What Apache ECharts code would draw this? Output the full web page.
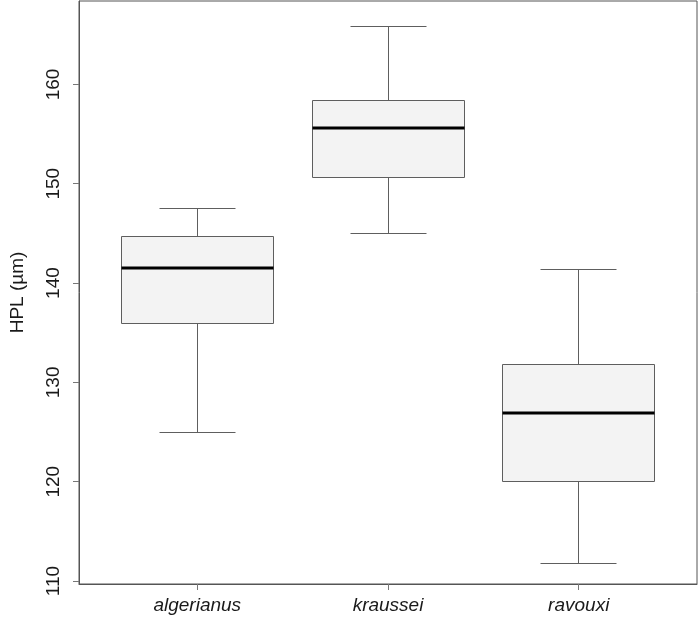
<!DOCTYPE html>
<html>
<head>
<meta charset="utf-8">
<script src="https://cdn.jsdelivr.net/npm/echarts@6/dist/echarts.min.js"></script>
<style>
html,body{margin:0;padding:0;background:#fff;}
#chart{width:699px;height:618px;}
</style>
</head>
<body>
<div id="chart"></div>
<script>
const categories = ['algerianus', 'kraussei', 'ravouxi'];
const lowWhisker = [125.0, 145.0, 111.8];
const q1 = [135.95, 150.65, 120.0];
const median = [141.55, 155.65, 126.9];
const q3 = [144.7, 158.4, 131.8];
const highWhisker = [147.5, 165.8, 141.4];
const outlierCategory = ['kraussei'];
const outlierValue = [124.4];
const yTicks = [110, 120, 130, 140, 150, 160];
const yTitle = 'HPL (\u00B5m)';

const catPos = categories.map((c, i) => i + 1);
const boxData = categories.map((c, i) => [catPos[i], lowWhisker[i], q1[i], median[i], q3[i], highWhisker[i]]);
const outlierData = outlierCategory.map((c, i) => [categories.indexOf(c) + 1, outlierValue[i]]);

const FONT = '"Liberation Sans", Arial, Helvetica, sans-serif';
const crisp = v => Math.round(v - 0.5) + 0.5;

function renderBox(params, api) {
  const x = api.value(0);
  const pLow = api.coord([x, api.value(1)]);
  const pQ1 = api.coord([x, api.value(2)]);
  const pMed = api.coord([x, api.value(3)]);
  const pQ3 = api.coord([x, api.value(4)]);
  const pHigh = api.coord([x, api.value(5)]);
  const boxW = api.size([0.8, 0])[0];
  const half = boxW / 2;
  const capHalf = boxW / 4;
  const cx = crisp(pMed[0]);
  const stroke = '#5e5e5e';
  const lineStyle = { stroke: stroke, lineWidth: 1 };
  const left = crisp(cx - half), right = crisp(cx + half);
  const top = crisp(pQ3[1]), bottom = crisp(pQ1[1]);
  return {
    type: 'group',
    children: [
      { type: 'line', shape: { x1: cx, y1: crisp(pHigh[1]), x2: cx, y2: top }, style: lineStyle },
      { type: 'line', shape: { x1: cx, y1: bottom, x2: cx, y2: crisp(pLow[1]) }, style: lineStyle },
      { type: 'line', shape: { x1: crisp(cx - capHalf), y1: crisp(pHigh[1]), x2: crisp(cx + capHalf), y2: crisp(pHigh[1]) }, style: lineStyle },
      { type: 'line', shape: { x1: crisp(cx - capHalf), y1: crisp(pLow[1]), x2: crisp(cx + capHalf), y2: crisp(pLow[1]) }, style: lineStyle },
      { type: 'rect', shape: { x: left, y: top, width: right - left, height: bottom - top }, style: { fill: '#f3f3f3', stroke: stroke, lineWidth: 1 } },
      { type: 'line', shape: { x1: left, y1: Math.round(pMed[1]), x2: right, y2: Math.round(pMed[1]) }, style: { stroke: '#000', lineWidth: 3 } }
    ]
  };
}

const chart = echarts.init(document.getElementById('chart'), null, { renderer: 'canvas' });
chart.setOption({
  backgroundColor: '#ffffff',
  animation: false,
  grid: { left: 71, right: 2, top: 1, bottom: 34, show: true, borderColor: '#555', borderWidth: 1, backgroundColor: 'transparent' },
  xAxis: {
    type: 'value', min: 0.38, max: 3.62,
    splitLine: { show: false },
    axisLine: { show: true, lineStyle: { color: '#555', width: 1 } },
    axisTick: { show: true, customValues: catPos, length: 6, lineStyle: { color: '#777' } },
    axisLabel: {
      customValues: catPos,
      formatter: v => categories[Math.round(v) - 1] || '',
      fontStyle: 'italic', fontFamily: FONT, fontSize: 19, color: '#1a1a1a', margin: 12
    }
  },
  yAxis: {
    type: 'value', min: 109.7, max: 168.4,
    name: yTitle, nameLocation: 'middle', nameGap: 52, nameRotate: 90,
    nameTextStyle: { fontFamily: FONT, fontSize: 19, color: '#1a1a1a' },
    splitLine: { show: false },
    axisLine: { show: true, lineStyle: { color: '#555', width: 1 } },
    axisTick: { show: true, customValues: yTicks, length: 6, lineStyle: { color: '#777' } },
    axisLabel: { customValues: yTicks, rotate: 90, fontFamily: FONT, fontSize: 19, color: '#1a1a1a', margin: 16 }
  },
  series: [
    {
      type: 'custom', renderItem: renderBox, data: boxData,
      encode: { x: 0, y: [1, 2, 3, 4, 5] }, z: 3
    },
    {
      type: 'scatter', data: outlierData, symbol: 'emptyCircle', symbolSize: 6,
      itemStyle: { color: '#fff', borderColor: '#333', borderWidth: 1 }, z: 4
    }
  ]
});
</script>
</body>
</html>
